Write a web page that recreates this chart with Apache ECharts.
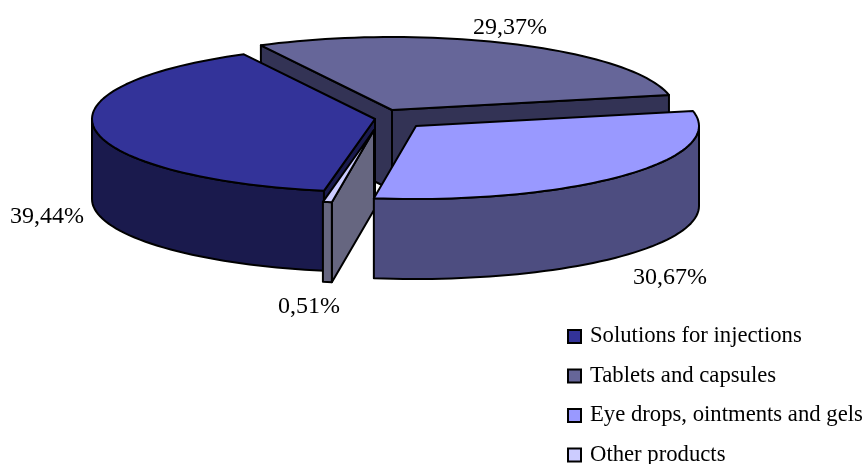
<!DOCTYPE html>
<html><head><meta charset="utf-8">
<style>html,body{margin:0;padding:0;background:#fff}#c{width:866px;height:464px}</style>
<script src="https://cdn.jsdelivr.net/npm/echarts@6/dist/echarts.min.js"></script>
</head><body><div id="c"></div>
<script>
const categories = ["Solutions for injections","Tablets and capsules","Eye drops, ointments and gels","Other products"];
const shares = [39.44,29.37,30.67,0.51];
const firstAngle = 190.4;

// presentation only
const topColors = ["#333399","#666699","#9999ff","#ccccff"];
const wallColors = ["#1a1a4d","#333355","#4d4d80","#666680"];
const tips = [[375,119],[392,110],[416,126],[374,130]];
const labelAt = [[47,217],[510,28],[670,278],[309,307]];
const zOrder = [3,2,5,4];
const RX=283, RY=73, DEPTH=80, FONT='"Liberation Serif","Times New Roman",serif';

const total = shares.reduce((a,b)=>a+b,0);
const starts = []; let acc = firstAngle;
shares.forEach((v,i)=>{ starts[i]=acc; acc+=v/total*360; });
const rad = d=>d*Math.PI/180;
const pt = (c,t,dz)=>[c[0]+RX*Math.sin(rad(t)), c[1]-RY*Math.cos(rad(t))+(dz||0)];
function arc(c,t0,t1,dz){ const n=Math.max(1,Math.ceil((t1-t0)/2)),p=[];
  for(let k=0;k<=n;k++) p.push(pt(c,t0+(t1-t0)*k/n,dz)); return p; }
const poly=(points,fill)=>({type:'polygon',shape:{points},style:{fill,stroke:'#000',lineWidth:2,lineJoin:'round'}});

function render(i){ return function(params,api){
  const span=api.value(0)/total*360, t0=starts[i], t1=t0+span, c=tips[i], kids=[];
  const down=[c[0],c[1]+DEPTH];
  const sinN=t=>Math.sin(rad(t));
  if(sinN(t0)<0) kids.push(poly([c,pt(c,t0),pt(c,t0,DEPTH),down],wallColors[i]));
  if(sinN(t1)>0) kids.push(poly([c,pt(c,t1),pt(c,t1,DEPTH),down],wallColors[i]));
  // outer rim: the part of the arc that faces the viewer
  for(let sh=-360;sh<=360;sh+=360){
    const a=Math.max(t0,90+sh), b=Math.min(t1,270+sh);
    if(b>a) kids.push(poly(arc(c,a,b).concat(arc(c,a,b,DEPTH).reverse()),wallColors[i]));
  }
  kids.push(poly([c].concat(arc(c,t0,t1)),topColors[i]));
  kids.push({type:'text',style:{text:api.value(0).toFixed(2).replace('.',',')+'%',x:labelAt[i][0],y:labelAt[i][1],
    align:'center',verticalAlign:'middle',font:'24px '+FONT,fill:'#000'}});
  return {type:'group',children:kids};
};}

const chart=echarts.init(document.getElementById('c'),null,{renderer:'canvas'});
chart.setOption({
  animation:false,
  backgroundColor:'#fff',
  legend:{orient:'vertical',left:562,top:320,width:304,height:200,itemWidth:13,itemHeight:13,itemGap:16.5,icon:'rect',
    data:categories,selectedMode:false,
    itemStyle:{borderColor:'#000',borderWidth:2},
    textStyle:{fontFamily:FONT,fontSize:22.7,color:'#000',height:16,lineHeight:16,padding:[0,0,0,4]}},
  series:categories.map((name,i)=>({
    type:'custom',name,coordinateSystem:'none',z:zOrder[i],
    itemStyle:{color:topColors[i]},
    renderItem:render(i),
    data:[[shares[i]]]
  }))
});
</script></body></html>
